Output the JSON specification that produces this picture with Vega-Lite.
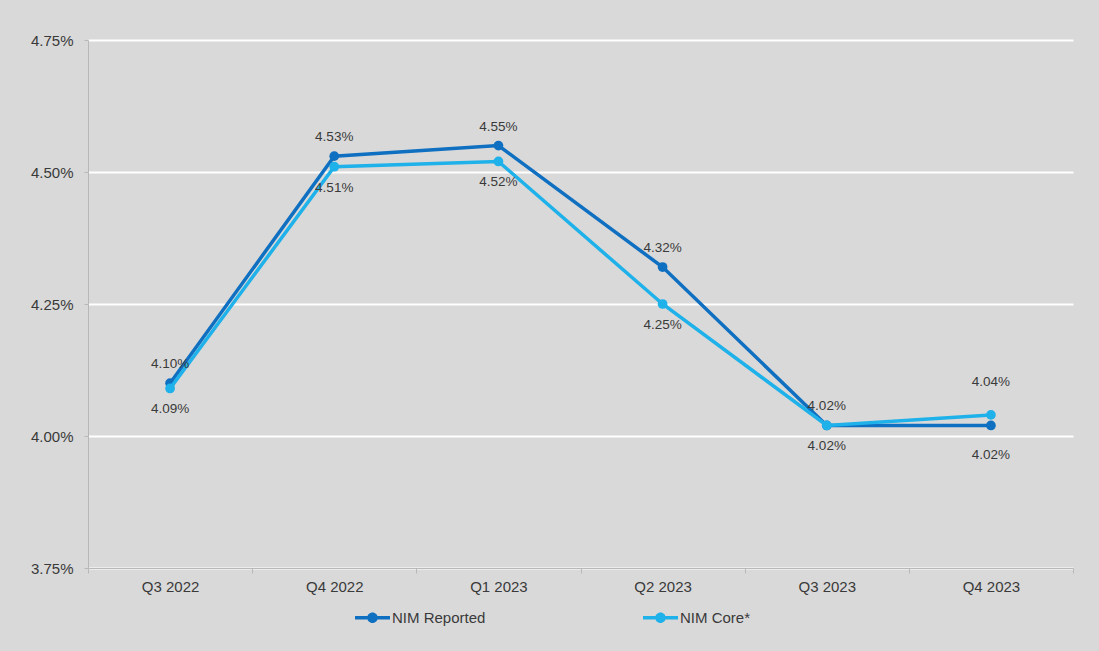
{
  "$schema": "https://vega.github.io/schema/vega-lite/v6.json",
  "width": 985,
  "height": 528,
  "autosize": {"type": "none"},
  "padding": {"left": 88, "top": 40, "right": 26, "bottom": 83},
  "background": "#d9d9d9",
  "config": {
    "view": {"stroke": null},
    "font": "Liberation Sans",
    "axis": {"labelFont": "Liberation Sans", "labelColor": "#3a3a3a", "labelFontSize": 15}
  },
  "data": {
    "values": [
      {"quarter": "Q3 2022", "series": "NIM Reported", "value": 0.0410},
      {"quarter": "Q4 2022", "series": "NIM Reported", "value": 0.0453},
      {"quarter": "Q1 2023", "series": "NIM Reported", "value": 0.0455},
      {"quarter": "Q2 2023", "series": "NIM Reported", "value": 0.0432},
      {"quarter": "Q3 2023", "series": "NIM Reported", "value": 0.0402},
      {"quarter": "Q4 2023", "series": "NIM Reported", "value": 0.0402},
      {"quarter": "Q3 2022", "series": "NIM Core*", "value": 0.0409},
      {"quarter": "Q4 2022", "series": "NIM Core*", "value": 0.0451},
      {"quarter": "Q1 2023", "series": "NIM Core*", "value": 0.0452},
      {"quarter": "Q2 2023", "series": "NIM Core*", "value": 0.0425},
      {"quarter": "Q3 2023", "series": "NIM Core*", "value": 0.0402},
      {"quarter": "Q4 2023", "series": "NIM Core*", "value": 0.0404}
    ]
  },
  "encoding": {
    "x": {
      "field": "quarter",
      "type": "nominal",
      "sort": null,
      "scale": {"type": "band", "paddingInner": 0, "paddingOuter": 0},
      "axis": {
        "title": null,
        "labelAngle": 0,
        "tickBand": "extent",
        "tickSize": 5,
        "tickColor": "#b8b8b8",
        "domainColor": "#b8b8b8",
        "labelPadding": 6,
        "grid": false
      }
    },
    "y": {
      "field": "value",
      "type": "quantitative",
      "scale": {"domain": [0.0375, 0.0475], "nice": false, "zero": false},
      "axis": {
        "title": null,
        "values": [0.0375, 0.04, 0.0425, 0.045, 0.0475],
        "format": ".2%",
        "tickSize": 4,
        "tickColor": "#b8b8b8",
        "domainColor": "#b8b8b8",
        "labelPadding": 11,
        "grid": true,
        "gridColor": "#ffffff",
        "gridWidth": 2
      }
    },
    "color": {
      "field": "series",
      "type": "nominal",
      "scale": {"domain": ["NIM Reported", "NIM Core*"], "range": ["#0f6fc0", "#1fb1ea"]},
      "legend": {
        "title": null,
        "orient": "none",
        "direction": "horizontal",
        "legendX": 267,
        "legendY": 560,
        "symbolType": "M-1,-0.1H1V0.1H-1Z M0.3,0A0.3,0.3,0,1,1,-0.3,0A0.3,0.3,0,1,1,0.3,0Z",
        "symbolSize": 1225,
        "symbolStrokeWidth": 0,
        "labelFontSize": 15,
        "labelColor": "#3a3a3a",
        "labelOffset": 2,
        "columnPadding": 157,
        "encode": {
          "symbols": {
            "update": {
              "fill": {"scale": "color", "field": "value"},
              "strokeWidth": {"value": 0},
              "opacity": {"value": 1}
            }
          }
        }
      }
    }
  },
  "layer": [
    {
      "transform": [{"filter": "datum.series === 'NIM Reported'"}],
      "mark": {"type": "line", "strokeWidth": 3.5, "point": {"filled": true, "size": 95, "opacity": 1}}
    },
    {
      "transform": [{"filter": "datum.series === 'NIM Core*'"}],
      "mark": {"type": "line", "strokeWidth": 3.5, "point": {"filled": true, "size": 95, "opacity": 1}}
    },
    {
      "transform": [{"filter": "datum.series === 'NIM Reported' && datum.quarter !== 'Q4 2023'"}],
      "mark": {"type": "text", "dy": -19, "fontSize": 13.5},
      "encoding": {"text": {"field": "value", "type": "quantitative", "format": ".2%"}, "color": {"value": "#3a3a3a"}}
    },
    {
      "transform": [{"filter": "datum.series === 'NIM Core*' && datum.quarter !== 'Q4 2023'"}],
      "mark": {"type": "text", "dy": 21, "fontSize": 13.5},
      "encoding": {"text": {"field": "value", "type": "quantitative", "format": ".2%"}, "color": {"value": "#3a3a3a"}}
    },
    {
      "transform": [{"filter": "datum.series === 'NIM Core*' && datum.quarter === 'Q4 2023'"}],
      "mark": {"type": "text", "dy": -33, "fontSize": 13.5},
      "encoding": {"text": {"field": "value", "type": "quantitative", "format": ".2%"}, "color": {"value": "#3a3a3a"}}
    },
    {
      "transform": [{"filter": "datum.series === 'NIM Reported' && datum.quarter === 'Q4 2023'"}],
      "mark": {"type": "text", "dy": 30, "fontSize": 13.5},
      "encoding": {"text": {"field": "value", "type": "quantitative", "format": ".2%"}, "color": {"value": "#3a3a3a"}}
    }
  ]
}
